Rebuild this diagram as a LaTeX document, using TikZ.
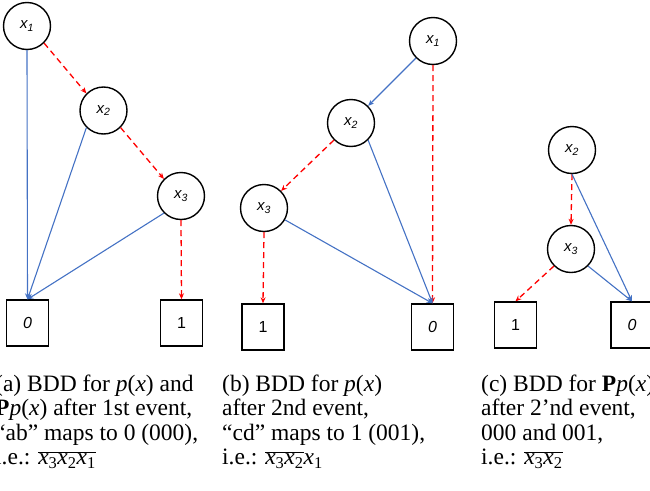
\documentclass[tikz,border=0pt]{standalone}
\usepackage{fontspec}
\newfontfamily\capfont{Liberation Serif}
\newfontfamily\lblfont{Liberation Sans}
\usetikzlibrary{arrows.meta}
\definecolor{eblue}{HTML}{4472C4}
\definecolor{ered}{HTML}{FF0000}
\begin{document}
\begin{tikzpicture}[x=1pt,y=-1pt,
  varnode/.style={circle,draw=black,line width=1.4pt,minimum size=47pt,inner sep=0pt,
    font=\lblfont\itshape\fontsize{15}{15}\selectfont},
  termnode/.style={rectangle,draw=black,line width=1.4pt,minimum width=42pt,minimum height=46pt,inner sep=0pt,
    font=\lblfont\fontsize{16}{16}\selectfont},
  hiedge/.style={draw=eblue,line width=1.1pt,-{Stealth[length=6pt,width=5pt]}},
  loedge/.style={draw=ered,line width=1.3pt,dash pattern=on 6pt off 4pt,-{Stealth[length=6pt,width=5pt]}},
  captext/.style={font=\capfont\fontsize{23.5}{24.5}\selectfont,align=left,inner sep=0pt,anchor=base west}
]
\clip (0,0) rectangle (650,490);
% panel (a)
\node[varnode] (a1) at (27,26) {x\textsubscript{1}};
\node[varnode] (a2) at (103.5,110.5) {x\textsubscript{2}};
\node[varnode] (a3) at (181,196) {x\textsubscript{3}};
\node[termnode] (a0t) at (27.5,323) {\itshape 0};
\node[termnode] (a1t) at (181.5,323) {1};
\draw[hiedge] (a1.south) -- (a0t.north);
\draw[loedge] (a1.south east) -- (a2.north west);
\draw[hiedge] (a2.south west) -- (a0t.north);
\draw[loedge] (a2.south east) -- (a3.north west);
\draw[hiedge] (a3.south west) -- (a0t.north);
\draw[loedge] (a3.south) -- (a1t.north);
% panel (b)
\node[varnode] (b1) at (433,41) {x\textsubscript{1}};
\node[varnode] (b2) at (351,123) {x\textsubscript{2}};
\node[varnode] (b3) at (264,208) {x\textsubscript{3}};
\node[termnode] (b1t) at (263,327) {1};
\node[termnode] (b0t) at (432.5,327) {\itshape 0};
\draw[hiedge] (b1.south west) -- (b2.north east);
\draw[loedge] (b1.south) -- (b0t.north);
\draw[loedge] (b2.south west) -- (b3.north east);
\draw[hiedge] (b2.south east) -- (b0t.north);
\draw[hiedge] (b3) -- (b0t.north);
\draw[loedge] (b3.south) -- (b1t.north);
% panel (c)
\node[varnode] (c2) at (572,150) {x\textsubscript{2}};
\node[varnode] (c3) at (571,249) {x\textsubscript{3}};
\node[termnode] (c1t) at (515.5,325) {1};
\node[termnode] (c0t) at (632,325) {\itshape 0};
\draw[loedge] (c2.south) -- (c3.north);
\draw[hiedge] (c2.south) -- (c0t.north);
\draw[loedge] (c3.south west) -- (c1t.north);
\draw[hiedge] (c3.south east) -- (c0t.north);
% captions (base anchor = baseline of last line)
\node[captext] (capa) at (-5,464.5) {(a) BDD for \textit{p}(\textit{x}) and\\
  \textbf{P}\textit{p}(\textit{x}) after 1st event,\\
  “ab” maps to 0 (000),\\
  i.e.: $\overline{\hbox{\textit{x}\textsubscript{3}\textit{x}\textsubscript{2}\textit{x}\textsubscript{1}}}$};
\node[captext] (capb) at (222,464.5) {(b) BDD for \textit{p}(\textit{x})\\
  after 2nd event,\\
  “cd” maps to 1 (001),\\
  i.e.: $\overline{\hbox{\textit{x}\textsubscript{3}\textit{x}\textsubscript{2}}}$\textit{x}\textsubscript{1}};
\node[captext] (capc) at (481,464.5) {(c) BDD for \textbf{P}\textit{p}(\textit{x})\\
  after 2’nd event,\\
  000 and 001,\\
  i.e.: $\overline{\hbox{\textit{x}\textsubscript{3}\textit{x}\textsubscript{2}}}$};
\end{tikzpicture}
\end{document}
